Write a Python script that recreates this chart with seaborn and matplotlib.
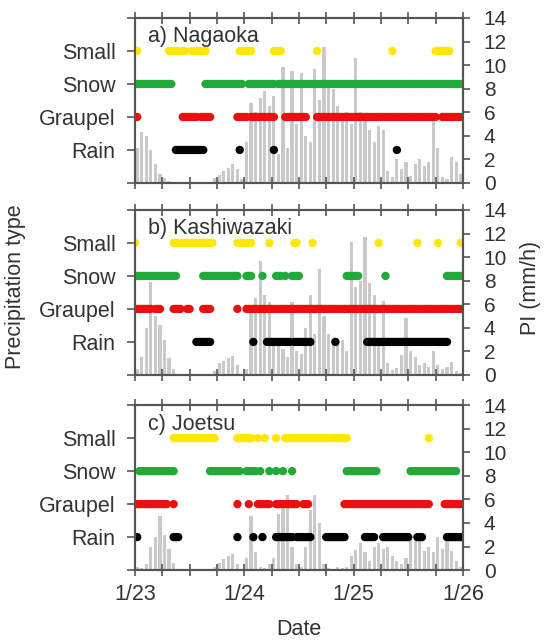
import numpy as np
import pandas as pd
import matplotlib
matplotlib.use('Agg')
import matplotlib.pyplot as plt
from matplotlib.ticker import MultipleLocator
import seaborn as sns

sns.set_style('ticks')
plt.rcParams['font.family'] = ['Liberation Sans', 'DejaVu Sans']

SITES = ['a) Nagaoka', 'b) Kashiwazaki', 'c) Joetsu']
TYPES = ['Rain', 'Graupel', 'Snow', 'Small']
TYPE_COLORS = {'Small': '#FFE800', 'Snow': '#1FAA3A', 'Graupel': '#E8110F', 'Rain': '#000000'}
DAY_LABELS = ['1/23', '1/24', '1/25', '1/26']

# hourly precipitation intensity (mm/h), hour 0 = 1/23 00:00
pi_nagaoka = [3.0, 4.3, 4.0, 2.8, 1.6, 0.8, 0.4, 0.2, 0.1, 0.0, 0.1, 0.0,
              0.0, 0.0, 0.0, 0.1, 0.1, 0.4, 0.7, 1.0, 1.3, 1.6, 1.2, 0.3,
              3.5, 6.8, 6.0, 7.2, 7.8, 6.5, 7.4, 2.5, 9.8, 3.0, 9.5, 5.0,
              9.3, 4.0, 3.5, 9.7, 7.0, 11.5, 8.5, 8.0, 6.5, 5.5, 6.0, 5.0,
              10.6, 6.0, 5.5, 4.5, 3.5, 4.8, 4.5, 1.0, 0.5, 2.0, 1.2, 1.8,
              0.6, 1.6, 2.0, 1.4, 1.8, 5.4, 3.0, 0.5, 0.3, 2.2, 1.8, 0.8]
pi_kashiwazaki = [0.5, 1.5, 4.0, 7.9, 5.0, 4.2, 3.0, 1.4, 0.5, 0.1, 0.0, 0.0,
                  0.0, 0.0, 0.0, 0.0, 0.0, 0.3, 1.0, 1.2, 1.4, 1.6, 0.8, 0.1,
                  0.5, 5.9, 6.5, 9.7, 6.8, 6.2, 2.5, 3.0, 2.2, 1.5, 6.2, 2.0,
                  1.8, 4.0, 6.8, 3.5, 9.0, 5.0, 3.5, 2.8, 2.5, 3.0, 2.0, 11.3,
                  7.5, 8.0, 11.7, 7.8, 6.8, 3.0, 6.3, 1.0, 0.4, 0.6, 1.7, 4.8,
                  2.0, 1.5, 0.8, 1.0, 0.7, 2.0, 0.8, 0.5, 0.7, 1.1, 0.3, 0.2]
pi_joetsu = [0.3, 0.2, 0.5, 2.0, 2.8, 4.6, 3.0, 1.8, 0.6, 0.1, 0.0, 0.0,
             0.0, 0.0, 0.0, 0.0, 0.0, 0.3, 0.6, 0.9, 1.2, 1.4, 0.5, 0.1,
             1.0, 4.6, 1.5, 0.3, 0.2, 0.5, 1.0, 4.8, 5.8, 6.4, 2.0, 0.5,
             0.3, 2.0, 5.1, 6.4, 4.0, 0.5, 0.2, 0.1, 0.3, 0.2, 0.3, 1.2,
             1.7, 2.3, 1.5, 0.8, 2.0, 2.3, 1.8, 2.0, 1.2, 0.8, 0.5, 1.0,
             2.6, 3.1, 2.5, 1.6, 2.0, 1.5, 2.8, 1.8, 3.0, 1.6, 0.8, 0.3]

# observed periods of each precipitation type (start h, end h)
nagaoka_small = [(0.5, 0.5), (7.5, 11), (12.5, 15.5), (23, 25.5), (30.5, 32), (40, 40), (56.5, 56.5), (66, 69)]
nagaoka_snow = [(0, 8), (15.5, 23.5), (25, 28), (28.5, 30.5), (31.5, 72)]
nagaoka_graupel = [(0.5, 0.5), (10.5, 13.5), (14.5, 16.5), (22.5, 24.5), (25.5, 30.5), (33, 37.5), (40, 66), (67.5, 71.5)]
nagaoka_rain = [(9, 15), (23, 23), (30.5, 30.5), (57.5, 57.5)]

kashiwazaki_small = [(0, 0), (8.5, 17), (22.5, 25.5), (29.5, 29.5), (35, 35.5), (39, 39), (53.5, 53.5), (62, 62), (66.5, 66.5), (71.5, 71.5)]
kashiwazaki_snow = [(0.5, 9), (15, 22.5), (24.5, 25.5), (28, 28), (31, 32), (33, 33), (34.5, 35.5), (36, 36), (46.5, 49), (55, 55), (68.5, 72)]
kashiwazaki_graupel = [(0, 3.5), (4.5, 5.5), (8.5, 10), (11.5, 12), (15, 16.5), (22.5, 22.5), (24.5, 72)]
kashiwazaki_rain = [(13.5, 16.5), (26, 26), (29, 34), (35, 38.5), (44, 44), (51, 68.5)]

joetsu_small = [(8.5, 17.5), (22.5, 25.5), (27, 27), (28.5, 28.5), (31, 31), (33, 42), (43, 46.5), (64.5, 64.5)]
joetsu_snow = [(1, 8.5), (16.5, 23), (24.5, 26.5), (27.5, 27.5), (29.5, 29.5), (31, 31), (32.5, 32.5), (34.5, 34.5), (46.5, 53), (60.5, 70.5)]
joetsu_graupel = [(0.5, 7), (8.5, 8.5), (22.5, 22.5), (25, 25), (27, 29.5), (31, 35.5), (37, 38), (46, 64.5), (68, 72)]
joetsu_rain = [(0, 0.5), (8.5, 9.5), (22.5, 22.5), (26, 26), (28, 28), (31, 34.5), (35.5, 38.5), (42, 46), (50.5, 52.5), (54.5, 60), (62, 63), (68.5, 71.5)]

pi_all = [pi_nagaoka, pi_kashiwazaki, pi_joetsu]
types_all = [
    {'Small': nagaoka_small, 'Snow': nagaoka_snow, 'Graupel': nagaoka_graupel, 'Rain': nagaoka_rain},
    {'Small': kashiwazaki_small, 'Snow': kashiwazaki_snow, 'Graupel': kashiwazaki_graupel, 'Rain': kashiwazaki_rain},
    {'Small': joetsu_small, 'Snow': joetsu_snow, 'Graupel': joetsu_graupel, 'Rain': joetsu_rain},
]


def periods_to_frame(periods):
    """observed periods -> one row per 30-min observation"""
    rows = []
    for ptype, spans in periods.items():
        for a, b in spans:
            for t in np.arange(a, b + 0.01, 0.5):
                rows.append({'t': t, 'type': ptype, 'level': TYPES.index(ptype) + 1})
    return pd.DataFrame(rows)


FS = 15.5
TXT = '#333333'
SPINE = '#555555'

fig = plt.figure(figsize=(5.44, 6.42), dpi=100)
bottoms = [0.715, 0.416, 0.112]

for i in range(3):
    ax = fig.add_axes([0.248, bottoms[i], 0.603, 0.257])
    axr = ax.twinx()

    # precipitation intensity bars (right axis)
    hours = np.arange(len(pi_all[i]))
    axr.bar(hours + 0.5, pi_all[i], width=0.7, color='#c9c9c9', linewidth=0)
    axr.set_ylim(0, 14)
    axr.set_yticks(range(0, 15, 2))
    axr.tick_params(axis='y', direction='out', length=5, width=1.2, colors=SPINE,
                    labelcolor=TXT, labelsize=15, pad=10)

    # precipitation type dots (left axis)
    df = periods_to_frame(types_all[i])
    sns.scatterplot(data=df, x='t', y='level', hue='type', palette=TYPE_COLORS,
                    s=36, linewidth=0, legend=False, ax=ax)
    ax.set_zorder(axr.get_zorder() + 1)
    ax.patch.set_visible(False)

    ax.set_xlim(0, 72)
    ax.set_ylim(0, 5)
    ax.set_yticks(range(6))
    ax.set_yticklabels([''] + TYPES + [''])
    ax.set_xlabel('')
    ax.set_ylabel('')
    ax.set_xticks([0, 24, 48, 72])
    ax.xaxis.set_minor_locator(MultipleLocator(6))
    ax.tick_params(axis='x', which='both', top=True, direction='inout', length=8,
                   width=1.2, colors=SPINE, labelcolor=TXT, labelsize=FS, pad=6)
    ax.tick_params(axis='y', direction='out', length=6, width=1.2, colors=SPINE,
                   labelcolor=TXT, labelsize=FS, pad=8)
    if i < 2:
        ax.set_xticklabels([])
    else:
        ax.set_xticklabels(DAY_LABELS)

    for a in (ax, axr):
        for sp in a.spines.values():
            sp.set_color(SPINE)
            sp.set_linewidth(1.5)

    ax.text(0.04, 0.885, SITES[i], transform=ax.transAxes, fontsize=FS,
            color=TXT, ha='left', va='center')

fig.text(0.028, 0.553, 'Precipitation type', rotation=90, fontsize=FS,
         color=TXT, ha='center', va='center')
fig.text(0.975, 0.551, 'PI (mm/h)', rotation=90, fontsize=FS,
         color=TXT, ha='center', va='center')
fig.text(0.55, 0.019, 'Date', fontsize=FS, color=TXT, ha='center', va='center')

fig.savefig('out.png', dpi=100)
